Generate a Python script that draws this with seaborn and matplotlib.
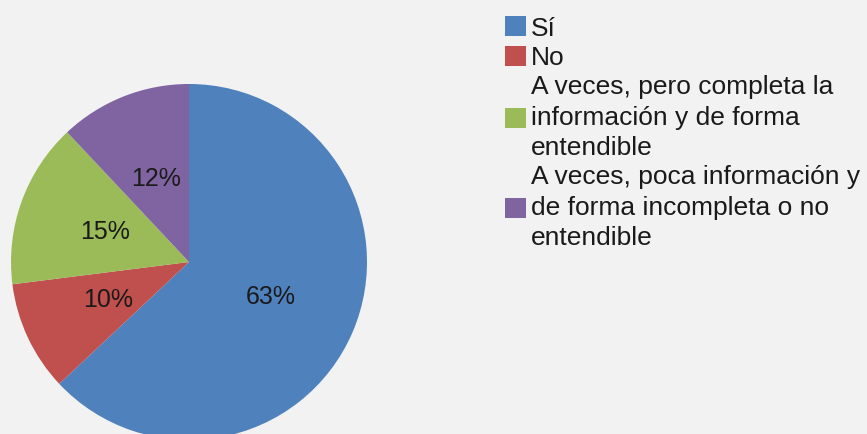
import matplotlib
matplotlib.use("Agg")
import matplotlib.pyplot as plt
import seaborn as sns

categories = [
    "Sí",
    "No",
    "A veces, pero completa la\ninformación y de forma\nentendible",
    "A veces, poca información y\nde forma incompleta o no\nentendible",
]
values = [63, 10, 15, 12]
colors = ["#4F81BD", "#C0504D", "#9BBB59", "#8064A2"]

sns.set_style("white")
plt.rcParams["font.family"] = ["Liberation Sans", "DejaVu Sans"]

fig = plt.figure(figsize=(8.67, 4.34), dpi=100, facecolor="#f2f2f2")
ax = fig.add_axes([0.0127, -0.0138, 0.4106, 0.8203])
ax.set_facecolor("#f2f2f2")
wedges, texts, autotexts = ax.pie(
    values, colors=colors, startangle=90, counterclock=False,
    autopct="%1.0f%%", pctdistance=0.5, radius=1,
    textprops={"fontsize": 18, "color": "#1a1a1a"},
    wedgeprops={"linewidth": 0},
)
ax.set_xlim(-1, 1)
ax.set_ylim(-1, 1)
ax.set_aspect("equal")
ax.axis("off")

leg = fig.legend(
    wedges, categories, loc="upper left", bbox_to_anchor=(0.5825, 0.962),
    frameon=False, fontsize=19, handlelength=0.78, handleheight=0.78,
    handletextpad=0.2, labelspacing=0.2, borderaxespad=0, borderpad=0,
)
for t in leg.get_texts():
    t.set_color("#1a1a1a")
    t.set_linespacing(1.34)

fig.savefig("out.png", dpi=100, facecolor=fig.get_facecolor())
